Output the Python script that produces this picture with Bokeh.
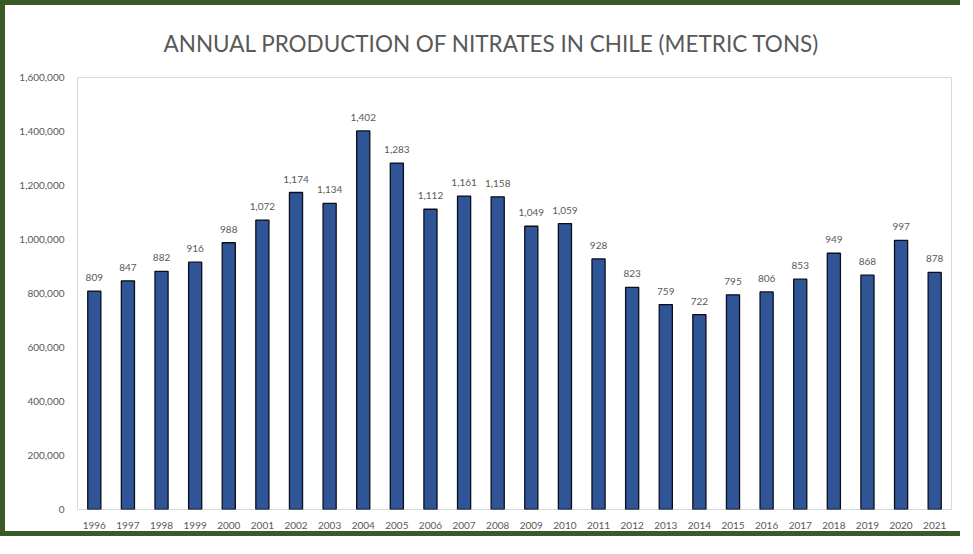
from bokeh.plotting import figure
from bokeh.models import ColumnDataSource, NumeralTickFormatter, FixedTicker, Range1d
from bokeh.core.properties import value
from bokeh.embed import file_html
from bokeh.resources import INLINE

years = ["1996", "1997", "1998", "1999", "2000", "2001", "2002", "2003", "2004",
         "2005", "2006", "2007", "2008", "2009", "2010", "2011", "2012", "2013",
         "2014", "2015", "2016", "2017", "2018", "2019", "2020", "2021"]
production_thousand_tons = [809, 847, 882, 916, 988, 1072, 1174, 1134, 1402,
                            1283, 1112, 1161, 1158, 1049, 1059, 928, 823, 759,
                            722, 795, 806, 853, 949, 868, 997, 878]
y_ticks = [0, 200000, 400000, 600000, 800000, 1000000, 1200000, 1400000, 1600000]

tons = [v * 1000 for v in production_thousand_tons]
labels = [f"{v:,}" for v in production_thousand_tons]
src = ColumnDataSource(dict(year=years, tons=tons, label=labels))

FONT = "Lato"
GRAY = "#595959"
GREEN = "#3a5a27"

p = figure(x_range=years, y_range=Range1d(0, 1600000), width=960, height=536,
           output_backend="svg", toolbar_location=None,
           title="ANNUAL PRODUCTION OF NITRATES IN CHILE (METRIC TONS)")
p.styles = {"border-left": f"5px solid {GREEN}", "border-top": f"5px solid {GREEN}",
            "border-bottom": f"5px solid {GREEN}"}

p.vbar(x="year", top="tons", width=0.39, source=src,
       fill_color="#2f5597", line_color="#0d0d1a", line_width=1.3)
p.text(x="year", y="tons", text="label", source=src,
       text_align="center", text_baseline="bottom", y_offset=-10,
       text_font=value(FONT), text_font_size="10px", text_color=GRAY)

p.title.align = "left"
p.title.text_font = FONT
p.title.text_font_style = "normal"
p.title.text_font_size = "22.5px"
p.title.text_color = GRAY
p.title.standoff = 42
p.title.offset = 86

p.x_range.range_padding = 0
p.xgrid.grid_line_color = None
p.ygrid.grid_line_color = None
p.outline_line_color = "#d9d9d9"
p.outline_line_width = 1

p.yaxis.ticker = FixedTicker(ticks=y_ticks)
p.yaxis.formatter = NumeralTickFormatter(format="0,0")
for ax in (p.xaxis, p.yaxis):
    ax.axis_line_color = None
    ax.major_tick_line_color = None
    ax.minor_tick_line_color = None
    ax.major_label_text_font = FONT
    ax.major_label_text_font_size = "10px"
    ax.major_label_text_color = GRAY
p.yaxis.major_label_standoff = 7
p.xaxis.major_label_standoff = 6

p.min_border_left = 72
p.min_border_right = 14
p.min_border_top = 72
p.min_border_bottom = 32
p.background_fill_color = "white"
p.border_fill_color = "white"

open("out.html", "w").write(file_html(p, INLINE))
